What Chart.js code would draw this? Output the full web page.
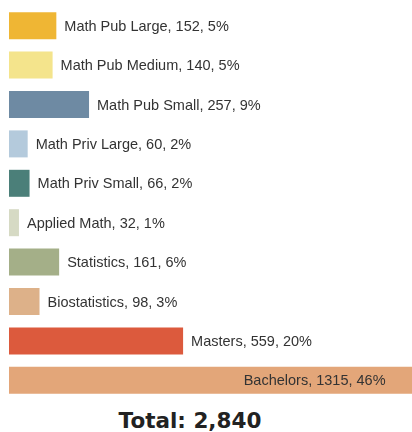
<!DOCTYPE html>
<html lang="en">
<head>
    <meta charset="UTF-8">
    <title>Degrees by Program</title>
    <script src="https://cdn.jsdelivr.net/npm/chart.js"></script>
    <style>
        body {
            margin: 0;
            padding: 0;
            background: #ffffff;
        }
        .wrap {
            position: relative;
            width: 412px;
            height: 432px;
            overflow: hidden;
        }
        .total {
            position: absolute;
            top: 409px;
            left: 0;
            width: 380px;
            text-align: center;
            font-family: "DejaVu Sans", sans-serif;
            font-weight: bold;
            font-size: 21.5px;
            line-height: 24px;
            color: #222;
        }
    </style>
</head>
<body>
    <div class="wrap">
        <canvas id="degreeChart" width="412" height="400"></canvas>
        <div class="total" id="total"></div>
    </div>

    <script>
        const programs = ['Math Pub Large', 'Math Pub Medium', 'Math Pub Small', 'Math Priv Large', 'Math Priv Small',
                          'Applied Math', 'Statistics', 'Biostatistics', 'Masters', 'Bachelors'];
        const degrees = [152, 140, 257, 60, 66, 32, 161, 98, 559, 1315];
        const barColors = ['#EFB634', '#F4E48C', '#6E8AA3', '#B4CADC', '#4B7F79',
                           '#D6DAC4', '#A4AF88', '#DDB189', '#DC5A3D', '#E3A679'];

        const total = degrees.reduce((a, b) => a + b, 0);
        document.getElementById('total').textContent = 'Total: ' + total.toLocaleString('en-US');

        // text next to each bar; moves inside when it would run off the right
        const barLabels = {
            id: 'barLabels',
            afterDatasetsDraw(chart) {
                const ctx = chart.ctx;
                const area = chart.chartArea;
                const meta = chart.getDatasetMeta(0);
                ctx.save();
                ctx.font = '14.5px "Liberation Sans", Arial, sans-serif';
                ctx.fillStyle = '#333';
                ctx.textBaseline = 'middle';
                meta.data.forEach((bar, i) => {
                    const pct = Math.round(degrees[i] / total * 100);
                    const text = programs[i] + ', ' + degrees[i] + ', ' + pct + '%';
                    const w = ctx.measureText(text).width;
                    if (bar.x + 8 + w > area.right) {
                        ctx.textAlign = 'right';
                        ctx.fillText(text, bar.x - 33, bar.y + 1);
                    } else {
                        ctx.textAlign = 'left';
                        ctx.fillText(text, bar.x + 8, bar.y + 1);
                    }
                });
                ctx.restore();
            }
        };

        new Chart(document.getElementById('degreeChart'), {
            type: 'bar',
            data: {
                labels: programs,
                datasets: [{
                    data: degrees,
                    backgroundColor: barColors,
                    borderWidth: 0,
                    barPercentage: 0.685,
                    categoryPercentage: 1
                }]
            },
            options: {
                indexAxis: 'y',
                responsive: false,
                animation: false,
                devicePixelRatio: 1,
                layout: { padding: { left: 9, right: 0, top: 6, bottom: 0 } },
                scales: {
                    x: { display: false, min: 0, max: 1294 },
                    y: { display: false }
                },
                plugins: {
                    legend: { display: false },
                    tooltip: { enabled: false }
                }
            },
            plugins: [barLabels]
        });
    </script>
</body>
</html>
